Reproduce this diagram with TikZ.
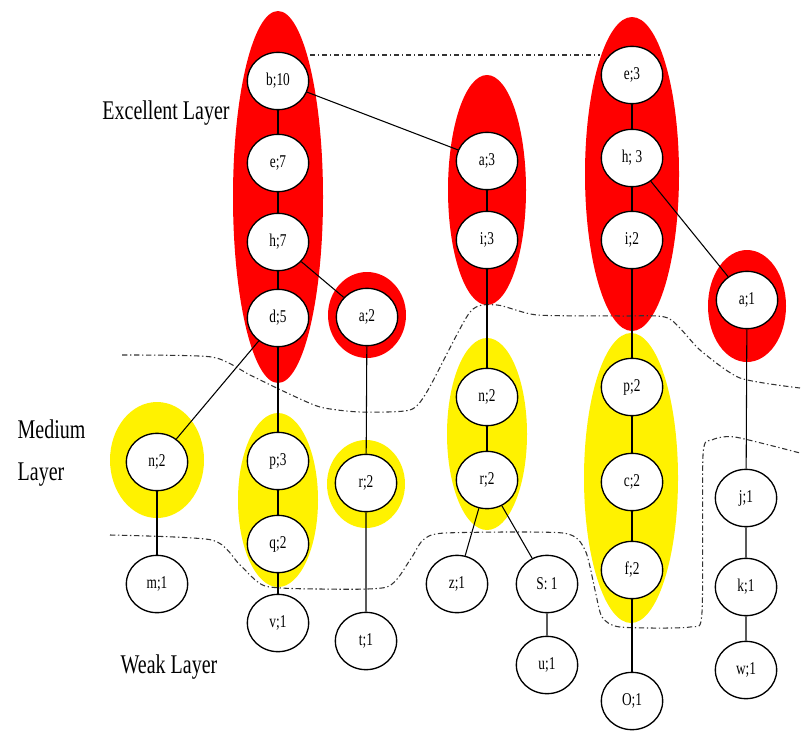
\documentclass[tikz,border=0pt]{standalone}
\usepackage{fontspec}
\setmainfont{Liberation Serif}
\usepackage{graphicx}
\usetikzlibrary{shapes.geometric}

\tikzset{
  item/.style={draw, fill=white, ellipse, line width=1pt, minimum width=46pt, minimum height=43pt, inner sep=0pt, font=\fontsize{10}{12}\selectfont},
  link/.style={line width=0.8pt},
  border/.style={line width=0.8pt, color=black!80, dash pattern=on 4pt off 2pt on 1pt off 2pt},
  layer/.style={font=\fontsize{15}{31}\selectfont, align=left}
}
\newcommand{\tall}[1]{\scalebox{1}[1.35]{#1}}

\begin{document}
\begin{tikzpicture}[x=0.75pt,y=0.75pt,yscale=-1,xscale=1]
\useasboundingbox (0,0) rectangle (802,732);

% groups
\fill[red] (278,197) ellipse (45 and 186);
\fill[red] (367,315) ellipse (39 and 43);
\fill[red] (487,190) ellipse (39 and 115);
\fill[red] (632,174) ellipse (47 and 157);
\fill[red] (747,306) ellipse (39 and 56);
\fill[yellow] (157,460) ellipse (47 and 58);
\fill[yellow] (278,500) ellipse (40 and 87);
\fill[yellow] (366,484) ellipse (39 and 44);
\fill[yellow] (487,434) ellipse (40 and 96);
\fill[yellow] (631,478) ellipse (47 and 145);

% layer borders
\draw[border] (310,55) -- (600,55);
\draw[border] plot[smooth, tension=0.4] coordinates {(122,355) (212,357) (250,375) (283,391) (320,407) (360,412) (410,410) (428,390) (470,312) (497,305) (537,315) (620,316) (668,318) (700,350) (740,378) (800,388)};
\draw[border] plot[smooth, tension=0.4] coordinates {(110,535) (212,540) (240,565) (265,586) (320,589) (387,587) (410,560) (423,540) (445,533) (563,533) (585,550) (595,590) (602,617) (620,627) (690,627) (702,612) (703,455) (712,440) (735,437) (800,453)};

% excellent layer
\node[item] (b10) at (278,81) {\tall{b;10}};
\node[item] (e7) at (278,163) {\tall{e;7}};
\node[item] (h7) at (278,242) {\tall{h;7}};
\node[item] (d5) at (278,318) {\tall{d;5}};
\node[item] (a2) at (367,317) {\tall{a;2}};
\node[item] (a3) at (487,161) {\tall{a;3}};
\node[item] (i3) at (487,240) {\tall{i;3}};
\node[item] (e3) at (632,75) {\tall{e;3}};
\node[item] (h3) at (632,158) {\tall{h; 3}};
\node[item] (i2) at (632,240) {\tall{i;2}};
\node[item] (a1) at (747,300) {\tall{a;1}};

% medium layer
\node[item] (n2l) at (157,462) {\tall{n;2}};
\node[item] (p3) at (278,461) {\tall{p;3}};
\node[item] (q2) at (278,544) {\tall{q;2}};
\node[item] (r2s) at (366,483) {\tall{r;2}};
\node[item] (n2) at (487,397) {\tall{n;2}};
\node[item] (r2) at (487,480) {\tall{r;2}};
\node[item] (p2) at (632,387) {\tall{p;2}};
\node[item] (c2) at (632,482) {\tall{c;2}};
\node[item] (f2) at (632,570) {\tall{f;2}};

% weak layer
\node[item] (m1) at (157,584) {\tall{m;1}};
\node[item] (v1) at (278,623) {\tall{v;1}};
\node[item] (t1) at (366,641) {\tall{t;1}};
\node[item] (z1) at (457,584) {\tall{z;1}};
\node[item] (s1) at (547,584) {\tall{S: 1}};
\node[item] (u1) at (547,665) {\tall{u;1}};
\node[item] (o1) at (632,701) {\tall{O;1}};
\node[item] (j1) at (746,498) {\tall{j;1}};
\node[item] (k1) at (746,587) {\tall{k;1}};
\node[item] (w1) at (746,670) {\tall{w;1}};

% links
\draw[link] (b10) -- (e7) -- (h7) -- (d5) -- (p3) -- (q2) -- (v1);
\draw[link] (b10) -- (a3);
\draw[link] (h7) -- (a2);
\draw[link] (d5) -- (n2l);
\draw[link] (n2l) -- (m1);
\draw[link] (a2) -- (r2s) -- (t1);
\draw[link] (a3) -- (i3) -- (n2) -- (r2);
\draw[link] (r2) -- (z1);
\draw[link] (r2) -- (s1) -- (u1);
\draw[link] (e3) -- (h3) -- (i2) -- (p2) -- (c2) -- (f2) -- (o1);
\draw[link] (h3) -- (a1);
\draw[link] (a1) -- (j1) -- (k1) -- (w1);

% layer names
\node[layer] (exc) at (166,113) {\tall{Excellent Layer}};
\node[layer, anchor=west] (med) at (13,453) {\tall{Medium}\\\tall{Layer}};
\node[layer] (weak) at (169,667) {\tall{Weak Layer}};
\end{tikzpicture}
\end{document}
